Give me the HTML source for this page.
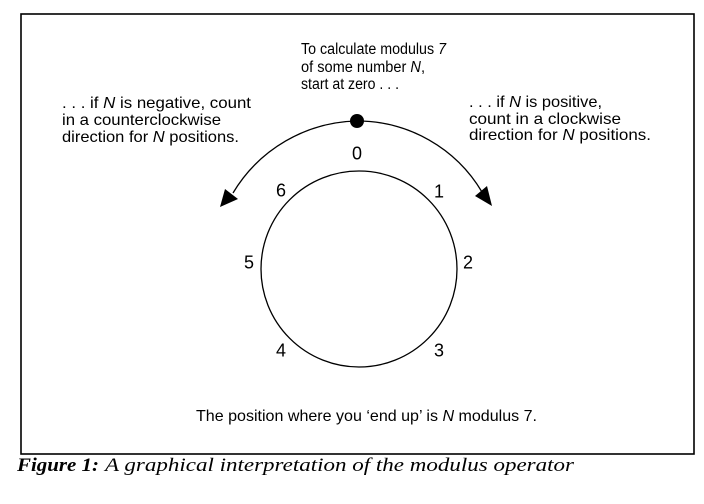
<!DOCTYPE html>
<html>
<head>
<meta charset="utf-8">
<style>
  html, body { margin: 0; padding: 0; background: #fff; }
  body { width: 704px; height: 504px; overflow: hidden; }
  svg { display: block; }
  .t { font-family: "Liberation Sans", Arial, sans-serif; font-size: 16px; fill: #000; }
  .ts { font-family: "Liberation Sans", Arial, sans-serif; font-size: 15.5px; fill: #000; }
  .d { font-family: "Liberation Sans", Arial, sans-serif; font-size: 18px; fill: #000; }
  .cap { font-family: "Liberation Serif", "Times New Roman", serif; font-size: 19px; font-style: italic; fill: #000; }
</style>
</head>
<body>
<svg width="704" height="504" viewBox="0 0 704 504" xmlns="http://www.w3.org/2000/svg">
  <!-- frame -->
  <rect x="21" y="14" width="673" height="440" fill="none" stroke="#000" stroke-width="1.6"/>

  <!-- top text -->
  <text class="ts" x="301" y="54" textLength="145" lengthAdjust="spacingAndGlyphs">To calculate modulus <tspan font-style="italic">7</tspan></text>
  <text class="ts" x="301" y="72" textLength="124" lengthAdjust="spacingAndGlyphs">of some number <tspan font-style="italic">N</tspan>,</text>
  <text class="ts" x="301" y="89" textLength="98" lengthAdjust="spacingAndGlyphs">start at zero .  .  .</text>

  <!-- left text -->
  <text class="t" x="62" y="108" textLength="189" lengthAdjust="spacingAndGlyphs">.  .  . if <tspan font-style="italic">N</tspan> is negative, count</text>
  <text class="t" x="62" y="125" textLength="159" lengthAdjust="spacingAndGlyphs">in a counterclockwise</text>
  <text class="t" x="62" y="142" textLength="177" lengthAdjust="spacingAndGlyphs">direction for <tspan font-style="italic">N</tspan> positions.</text>

  <!-- right text -->
  <text class="t" x="469" y="107" textLength="133" lengthAdjust="spacingAndGlyphs">.  .  . if <tspan font-style="italic">N</tspan>  is positive,</text>
  <text class="t" x="469" y="124" textLength="152" lengthAdjust="spacingAndGlyphs">count in a clockwise</text>
  <text class="t" x="469" y="140" textLength="182" lengthAdjust="spacingAndGlyphs">direction for <tspan font-style="italic">N</tspan> positions.</text>

  <!-- arcs -->
  <path d="M357,121 A148,148 0 0 0 233,193" fill="none" stroke="#000" stroke-width="1.3"/>
  <path d="M357,121 A145,145 0 0 1 482,192" fill="none" stroke="#000" stroke-width="1.3"/>
  <!-- arrowheads -->
  <polygon points="220,207 225,189 238,199" fill="#000"/>
  <polygon points="492,206 475,196 487,186" fill="#000"/>
  <!-- start dot -->
  <circle cx="357" cy="121" r="7" fill="#000"/>

  <!-- circle -->
  <circle cx="359" cy="269" r="98" fill="none" stroke="#000" stroke-width="1.3"/>

  <!-- digits -->
  <text class="d" x="357" y="159.5" text-anchor="middle">0</text>
  <text class="d" x="439" y="197.5" text-anchor="middle">1</text>
  <text class="d" x="468" y="268.5" text-anchor="middle">2</text>
  <text class="d" x="439" y="356.5" text-anchor="middle">3</text>
  <text class="d" x="281" y="356.5" text-anchor="middle">4</text>
  <text class="d" x="249" y="268.5" text-anchor="middle">5</text>
  <text class="d" x="281" y="196.5" text-anchor="middle">6</text>

  <!-- bottom text -->
  <text class="t" x="196" y="421" textLength="341" lengthAdjust="spacingAndGlyphs">The position where you ‘end up’ is <tspan font-style="italic">N</tspan> modulus 7.</text>

  <!-- caption -->
  <text class="cap" x="17" y="471" font-weight="bold" textLength="82" lengthAdjust="spacingAndGlyphs">Figure 1:</text>
  <text class="cap" x="105" y="471" textLength="469" lengthAdjust="spacingAndGlyphs">A graphical interpretation of the modulus operator</text>
</svg>
</body>
</html>
